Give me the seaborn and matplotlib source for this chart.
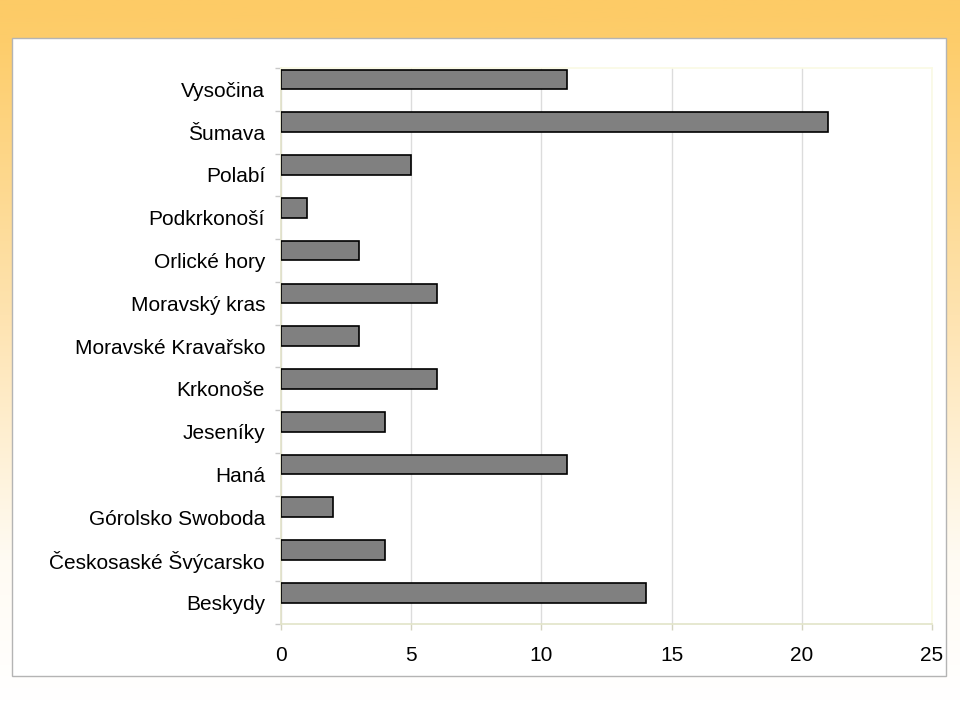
import numpy as np
import pandas as pd
import matplotlib
matplotlib.use("Agg")
import matplotlib.pyplot as plt
from matplotlib.patches import Rectangle
from matplotlib.colors import LinearSegmentedColormap
import seaborn as sns

categories = ["Vysočina", "Šumava", "Polabí", "Podkrkonoší", "Orlické hory",
              "Moravský kras", "Moravské Kravařsko", "Krkonoše", "Jeseníky",
              "Haná", "Górolsko Swoboda", "Českosaské Švýcarsko", "Beskydy"]
values = [11, 21, 5, 1, 3, 6, 3, 6, 4, 11, 2, 4, 14]
x_ticks = [0, 5, 10, 15, 20, 25]

sns.set_theme(style="white")
plt.rcParams['font.family'] = ['Liberation Sans', 'DejaVu Sans']
plt.rcParams['text.color'] = 'black'
plt.rcParams['xtick.color'] = 'black'
plt.rcParams['ytick.color'] = 'black'

W, H = 960, 701
fig = plt.figure(figsize=(W / 100, H / 100), dpi=100)

# background gradient
bg = fig.add_axes([0, 0, 1, 1], zorder=-10)
grad = np.linspace(0, 1, 256).reshape(-1, 1)
cmap = LinearSegmentedColormap.from_list("bg", [(0.0, "#FDCB66"), (0.06, "#FDCD6B"),
                                                (0.45, "#FEE3B0"), (0.8, "#FFFBF3"), (1.0, "#FFFFFF")])
bg.imshow(grad, aspect="auto", cmap=cmap, extent=[0, 1, 0, 1], origin="upper")
bg.set_xlim(0, 1); bg.set_ylim(0, 1)
bg.axis("off")
bg.add_patch(Rectangle((12 / W, 1 - 676 / H), (946 - 12) / W, (676 - 38) / H,
                       facecolor="white", edgecolor="#B4B4B4", linewidth=1.0,
                       transform=bg.transAxes, zorder=2))

left, right, top, bottom = 281, 932, 68, 624
ax = fig.add_axes([left / W, 1 - bottom / H, (right - left) / W, (bottom - top) / H], zorder=1)
ax.patch.set_alpha(0)

# Excel-style layout: a second (empty) series slot below each bar
df = pd.DataFrame({"region": categories * 2,
                   "count": values + [0] * len(values),
                   "series": ["a"] * len(values) + ["b"] * len(values)})
sns.barplot(data=df, y="region", x="count", hue="series", order=categories,
            hue_order=["a", "b"], orient="h", palette=["#808080", "#808080"],
            saturation=1, edgecolor="black", linewidth=1.2, width=0.92,
            dodge=True, legend=False, ax=ax, zorder=3)
for p in list(ax.patches):
    if p.get_width() == 0:
        p.remove()

ax.set_xlim(0, 25)
ax.set_ylim(len(categories) - 0.5, -0.5)
ax.set_xticks(x_ticks)
ax.set_xticklabels([str(t) for t in x_ticks], fontsize=15)
ax.set_xlabel(""); ax.set_ylabel("")

ax.grid(axis="x", color="#DCDCDC", linewidth=1, zorder=0)
ax.grid(axis="y", visible=False)
ax.set_axisbelow(True)

ax.set_yticks(range(len(categories)))
ax.set_yticklabels(categories, fontsize=15)
ax.set_yticks(np.arange(-0.5, len(categories), 1.0), minor=True)
ax.tick_params(axis="y", which="major", length=0, pad=11.5)
ax.tick_params(axis="y", which="minor", length=4.5, width=1, color="#C8C8C8", left=True)
ax.tick_params(axis="x", which="major", length=4.5, width=1, color="#D4D4C0", bottom=True, pad=11)

for side, col in [("left", "#E2E2C8"), ("bottom", "#E2E4C8"), ("top", "#FAFAE4"), ("right", "#FAFAE4")]:
    ax.spines[side].set_color(col)
    ax.spines[side].set_linewidth(1.2)
    ax.spines[side].set_visible(True)

fig.savefig("out.png", dpi=100)
